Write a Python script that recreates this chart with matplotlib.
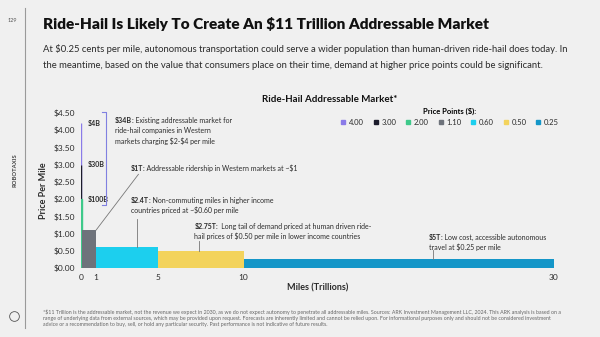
import matplotlib
matplotlib.use("Agg")
import matplotlib.pyplot as plt
from matplotlib.lines import Line2D
import numpy as np

# ---- data ----
price_labels = ["4.00", "3.00", "2.00", "1.10", "0.60", "0.50", "0.25"]
price_heights = [4.2, 3.0, 2.0, 1.1, 0.6, 0.5, 0.25]
miles_widths = [0.001, 0.01, 0.05, 0.91, 4.0, 5.5, 20.0]
colors = ["#8a7be8", "#1c1c2b", "#3ec98a", "#6e737b", "#1ccfee", "#f3d35c", "#1496c8"]
yticks = [0, 0.5, 1.0, 1.5, 2.0, 2.5, 3.0, 3.5, 4.0, 4.5]
xtick_edge_idx = [0, 4, 5, 6, 7]
xtick_labels = ["0", "1", "5", "10", "30"]
small_labels = ["$4B", "$30B", "$100B"]

BG = "#f0f0f0"
TXT = "#2b2b2b"
FONT = ["Lato", "DejaVu Sans"]
plt.rcParams["font.family"] = FONT

fig = plt.figure(figsize=(6, 3.37), dpi=100, facecolor=BG)
W, H = 600, 337

def fx(px):
    return px / W

def fy(py):
    return 1 - py / H

ax = fig.add_axes([fx(81), fy(268), fx(554 - 81), (268 - 113) / H])
ax.set_facecolor(BG)

edges = np.concatenate([[0], np.cumsum(miles_widths)])
for i, (h, w, c) in enumerate(zip(price_heights, miles_widths, colors)):
    lw = 1.0 if w < 0.1 else 0
    ax.bar(edges[i], h, width=w, align="edge", color=c, edgecolor=c, linewidth=lw, zorder=3)

ax.set_xlim(0, edges[-1])
ax.set_ylim(0, 4.5)
ax.set_yticks(yticks)
ax.set_yticklabels([f"${v:.2f}" for v in yticks], fontsize=6, color=TXT)
ax.set_xticks([edges[i] for i in xtick_edge_idx])
ax.set_xticklabels(xtick_labels, fontsize=6, color=TXT)
ax.tick_params(length=0, pad=4)
for s in ax.spines.values():
    s.set_visible(False)
ax.set_ylabel("Price Per Mile", fontsize=6.5, fontweight="bold", color=TXT, labelpad=4)
ax.set_xlabel("Miles (Trillions)", fontsize=6.5, fontweight="bold", color=TXT, labelpad=2)

# small labels for narrow bars
for lab, h in zip(small_labels, price_heights[:3]):
    ax.text(0.4, h, lab, fontsize=5, fontweight="bold", color=TXT, va="center", ha="left")

# bracket
bx = 1.6
ax.plot([bx - 0.25, bx, bx, bx - 0.25], [4.52, 4.52, 1.83, 1.83], color="#8080e0", lw=0.8,
        clip_on=False, zorder=4)

renderer = fig.canvas.get_renderer()
FS = 5.0
LH = 10.5

def rich(x, y, bold, lines):
    t = ax.text(x, y, bold, fontsize=FS, fontweight="bold", color=TXT, va="baseline", ha="left")
    wpx = t.get_window_extent(renderer).width
    for k, line in enumerate(lines):
        dx = wpx if k == 0 else 0
        ax.annotate(line, xy=(x, y), xycoords="data", xytext=(dx, -k * LH),
                    textcoords="offset pixels", fontsize=FS, color=TXT,
                    va="baseline", ha="left")

rich(2.2, 4.22, "$34B", [": Existing addressable market for",
                          "ride-hail companies in Western",
                          r"markets charging \$2-\$4 per mile"])
rich(3.2, 2.82, "$1T", [": Addressable ridership in Western markets at ~$1"])
ax.plot([edges[4], 3.7], [price_heights[3], 2.72], color="#777777", lw=0.6, zorder=4)
rich(3.2, 1.89, "$2.4T", [": Non-commuting miles in higher income",
                           "countries priced at ~$0.60 per mile"])
ax.plot([3.6, 3.6], [price_heights[4], 1.42], color="#777777", lw=0.6, zorder=4)
rich(7.3, 1.14, "$2.75T", [":  Long tail of demand priced at human driven ride-",
                            "hail prices of $0.50 per mile in lower income countries"])
ax.plot([7.6, 7.6], [price_heights[5], 0.78], color="#777777", lw=0.6, zorder=4)
rich(22.4, 0.82, "$5T", [": Low cost, accessible autonomous",
                          "travel at $0.25 per mile"])
ax.plot([22.7, 22.7], [price_heights[6], 0.52], color="#777777", lw=0.6, zorder=4)

# legend
handles = [Line2D([0], [0], marker="s", color="none", markerfacecolor=c, markeredgecolor=c,
                  markersize=3.5) for c in colors]
leg = fig.legend(handles, price_labels, loc="center", bbox_to_anchor=(fx(450), fy(117)),
                 ncol=7, frameon=False, fontsize=5.5, handlelength=0.6, handletextpad=0.4,
                 columnspacing=1.3, title="Price Points ($):",
                 title_fontproperties={"weight": "bold", "size": 5.5, "family": FONT})
for t in leg.get_texts():
    t.set_color(TXT)

# titles
fig.text(fx(43), fy(24), "Ride-Hail Is Likely To Create An $11 Trillion Addressable Market",
         fontsize=11.1, fontweight="heavy", color="#111111", va="center", ha="left")
fig.text(fx(43), fy(49), "At $0.25 cents per mile, autonomous transportation could serve a wider population than human-driven ride-hail does today. In",
         fontsize=6.85, color=TXT, va="center", ha="left")
fig.text(fx(43), fy(66), "the meantime, based on the value that consumers place on their time, demand at higher price points could be significant.",
         fontsize=6.85, color=TXT, va="center", ha="left")
fig.text(fx(330), fy(100), "Ride-Hail Addressable Market*", fontsize=7, fontweight="bold",
         color="#111111", va="center", ha="center")

# page decorations
fig.text(fx(12), fy(20), "129", fontsize=4, color="#555555", va="center", ha="center")
fig.add_artist(Line2D([fx(25), fx(25)], [fy(8), fy(328)], color="#9a9a9a", lw=0.8))
fig.text(fx(15), fy(170), "ROBOTAXIS", fontsize=4.2, fontweight="bold", color="#444444",
         rotation=90, va="center", ha="center")
fig.add_artist(Line2D([fx(14)], [fy(316)], marker="o", markersize=7, markerfacecolor="none",
                      markeredgecolor="#555555", markeredgewidth=0.6, color="none"))

foot = ("*$11 Trillion is the addressable market, not the revenue we expect in 2030, as we do not expect autonomy to penetrate all addressable miles. Sources: ARK Investment Management LLC, 2024. This ARK analysis is based on a\n"
        "range of underlying data from external sources, which may be provided upon request. Forecasts are inherently limited and cannot be relied upon. For informational purposes only and should not be considered investment\n"
        "advice or a recommendation to buy, sell, or hold any particular security. Past performance is not indicative of future results.")
fig.text(fx(43), fy(318), foot, fontsize=3.75, color="#666666", va="center", ha="left", linespacing=1.25)

fig.savefig("out.png", dpi=100, facecolor=BG)
